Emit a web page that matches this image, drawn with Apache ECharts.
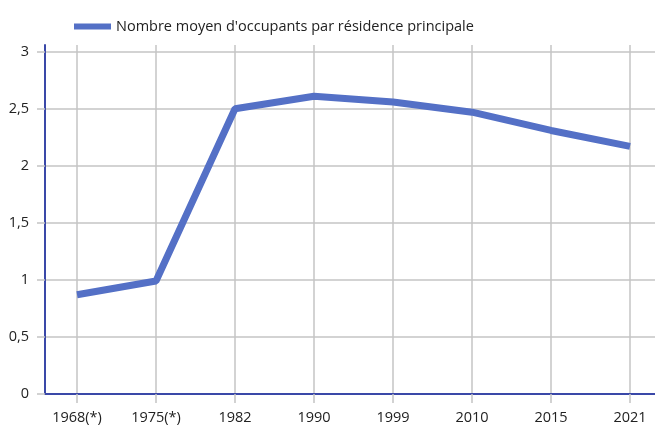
<!DOCTYPE html>
<html><head><meta charset="utf-8">
<script src="https://cdn.jsdelivr.net/npm/echarts@6/dist/echarts.min.js"></script>
<style>html,body{margin:0;padding:0;background:#fff}#c{width:655px;height:426px}</style>
</head><body><div id="c"></div>
<script>
const categories = ["1968(*)", "1975(*)", "1982", "1990", "1999", "2010", "2015", "2021"];
const values = [0.87, 0.99, 2.50, 2.61, 2.56, 2.47, 2.31, 2.17];
const yTicks = [0, 0.5, 1, 1.5, 2, 2.5, 3];
const seriesName = "Nombre moyen d'occupants par résidence principale";
const idx = categories.map((c, i) => i);

const chart = echarts.init(document.getElementById('c'));
const font = "'Open Sans', 'Noto Sans', sans-serif";
chart.setOption({
  animation: false,
  backgroundColor: '#fff',
  legend: {
    left: 69, top: 14, itemWidth: 37, itemHeight: 6, icon: 'rect', itemGap: 10,
    textStyle: { fontFamily: font, fontSize: 14.5, color: '#222' },
    data: [seriesName]
  },
  grid: { left: 45, right: 0, top: 45, bottom: 32 },
  xAxis: {
    type: 'value', min: -0.405, max: 7.316,
    axisLine: { show: true, onZero: false, lineStyle: { color: '#3a48a8', width: 2 } },
    axisTick: { show: true, customValues: idx, length: 9, lineStyle: { color: '#c4c4c4', width: 1.5 } },
    axisLabel: { customValues: idx, formatter: v => categories[Math.round(v)], fontFamily: font, fontSize: 14.5, color: '#222', margin: 16 },
    splitLine: { show: true, lineStyle: { color: '#c4c4c4', width: 1.5 } }
  },
  yAxis: {
    type: 'value', min: 0, max: 3.059,
    axisLine: { show: true, onZero: false, lineStyle: { color: '#3a48a8', width: 2 } },
    axisTick: { show: true, customValues: yTicks, length: 8, lineStyle: { color: '#c4c4c4', width: 1.5 } },
    axisLabel: { customValues: yTicks, formatter: v => String(v).replace('.', ','), fontFamily: font, fontSize: 14.5, color: '#222', margin: 16 },
    splitLine: { show: true, lineStyle: { color: '#c4c4c4', width: 1.5 } }
  },
  series: [{
    name: seriesName, type: 'line', showSymbol: false,
    itemStyle: { color: '#5470c6' },
    lineStyle: { color: '#5470c6', width: 7 },
    data: idx.map(i => [i, values[i]])
  }]
});
</script>
</body></html>
